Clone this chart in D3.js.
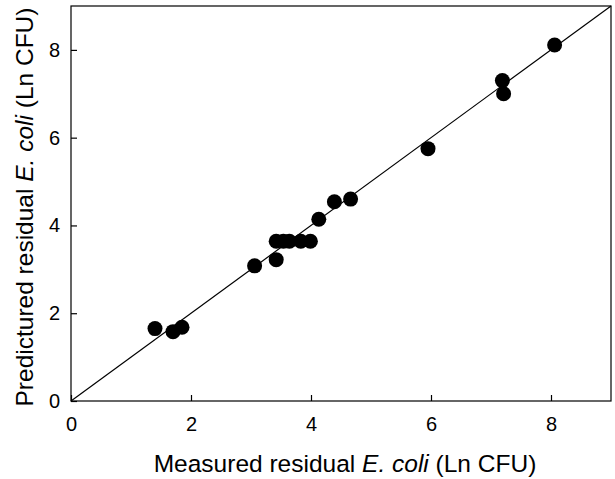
<!DOCTYPE html>
<html>
<head>
<meta charset="utf-8">
<script src="https://d3js.org/d3.v7.min.js"></script>
<style>
  body { margin: 0; background: #fff; }
  text { font-family: "Liberation Sans", Arial, sans-serif; fill: #000; }
</style>
</head>
<body>
<div id="chart"></div>
<script>
// measured vs predicted residual E. coli (Ln CFU)
const measured  = [1.40, 1.70, 1.85, 3.06, 3.42, 3.42, 3.54, 3.64, 3.83, 3.99, 4.13, 4.39, 4.66, 5.95, 7.19, 7.21, 8.06];
const predicted = [1.65, 1.58, 1.68, 3.08, 3.22, 3.64, 3.64, 3.64, 3.64, 3.64, 4.14, 4.54, 4.60, 5.75, 7.30, 7.00, 8.11];
const xTicks = [0, 2, 4, 6, 8];
const yTicks = [0, 2, 4, 6, 8];
const axisMax = 9;

const W = 615, H = 479;
const margin = { top: 6, right: 4, bottom: 78, left: 71 };
const width = W - margin.left - margin.right;
const height = H - margin.top - margin.bottom;

const svg = d3.select("#chart").append("svg")
  .attr("width", W).attr("height", H);
const g = svg.append("g")
  .attr("transform", "translate(" + margin.left + "," + margin.top + ")");

const x = d3.scaleLinear().domain([0, axisMax]).range([0, width]);
const y = d3.scaleLinear().domain([0, axisMax]).range([height, 0]);

// frame
g.append("rect")
  .attr("width", width).attr("height", height)
  .attr("fill", "none").attr("stroke", "#000").attr("stroke-width", 1.2);

// axes with inward ticks
const xAxis = g.append("g")
  .attr("transform", "translate(0," + height + ")")
  .call(d3.axisBottom(x).tickValues(xTicks).tickSizeInner(-6).tickSizeOuter(0).tickPadding(16));
const yAxis = g.append("g")
  .call(d3.axisLeft(y).tickValues(yTicks).tickSizeInner(-6).tickSizeOuter(0).tickPadding(11));
[xAxis, yAxis].forEach(a => {
  a.select(".domain").remove();
  a.selectAll("line").attr("stroke", "#000").attr("stroke-width", 1.2);
  a.selectAll("text").style("font-size", "20px").attr("fill", "#000");
});

// 1:1 line
g.append("line")
  .attr("x1", x(0)).attr("y1", y(0))
  .attr("x2", x(axisMax)).attr("y2", y(axisMax))
  .attr("stroke", "#000").attr("stroke-width", 1.2);

// points
g.selectAll(".pt")
  .data(measured.map((m, i) => ({ m: m, p: predicted[i] })))
  .enter().append("circle")
  .attr("class", "pt")
  .attr("cx", d => x(d.m))
  .attr("cy", d => y(d.p))
  .attr("r", 7.5)
  .attr("fill", "#000");

// axis titles
const xt = svg.append("text")
  .attr("x", 345).attr("y", 472)
  .attr("text-anchor", "middle").style("font-size", "24.5px");
xt.append("tspan").text("Measured residual ");
xt.append("tspan").attr("font-style", "italic").text("E. coli");
xt.append("tspan").text(" (Ln CFU)");

const yt = svg.append("text")
  .attr("transform", "translate(33,207) rotate(-90)")
  .attr("text-anchor", "middle").style("font-size", "24.5px");
yt.append("tspan").text("Predictured residual ");
yt.append("tspan").attr("font-style", "italic").text("E. coli");
yt.append("tspan").text(" (Ln CFU)");
</script>
</body>
</html>
